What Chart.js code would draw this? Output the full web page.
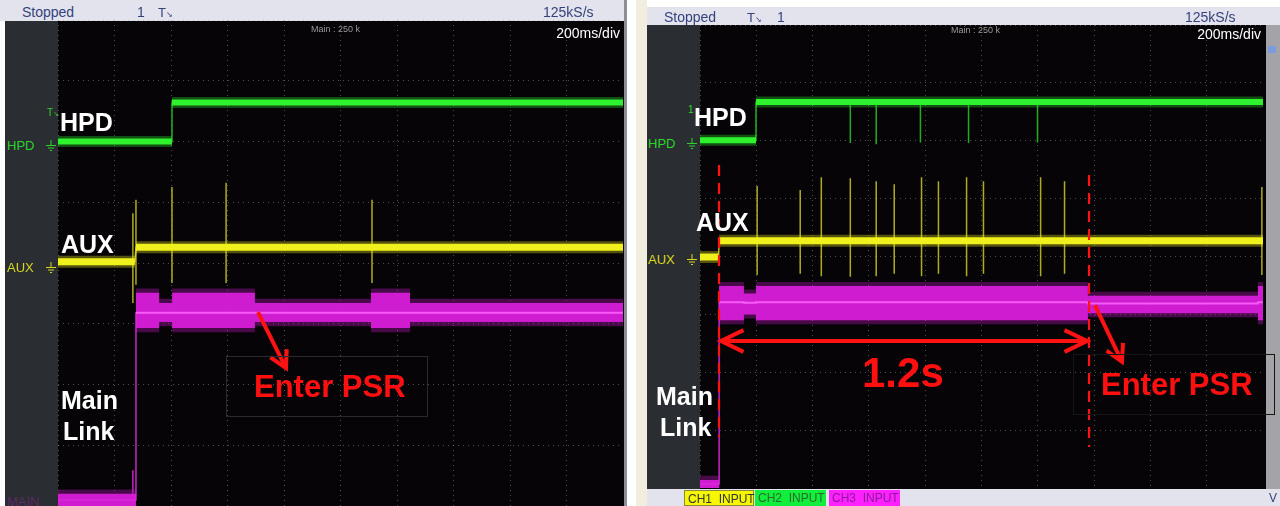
<!DOCTYPE html>
<html><head><meta charset="utf-8">
<script src="https://cdn.jsdelivr.net/npm/chart.js@4/dist/chart.umd.min.js"></script>
<style>
body{margin:0;width:1280px;height:506px;background:#fff;position:relative;overflow:hidden;font-family:"Liberation Sans",Arial,sans-serif;}
.a{position:absolute;white-space:nowrap;line-height:1;}
.bar{background:#e3e3ed;}
.sm{font-family:"Liberation Sans Narrow","Liberation Sans",sans-serif;color:#34427c;font-size:14px;}
.big{color:#fff;font-weight:bold;font-size:25px;}
.red{color:#ff0f0f;font-weight:bold;}
.div{font-family:"Liberation Sans Narrow","Liberation Sans",sans-serif;color:#fff;font-size:14px;}
.main{font-size:9px;color:#9a9a9a;}
.ch{font-family:"Liberation Sans Narrow","Liberation Sans",sans-serif;font-size:13px;}
.chip{font-family:"Liberation Sans Narrow","Liberation Sans",sans-serif;font-size:12px;height:16px;line-height:16px;box-sizing:border-box;padding-left:3px;}
canvas{position:absolute;}
</style></head><body>
<!-- LEFT SCOPE CHROME -->
<div class="a bar" style="left:0;top:0;width:624px;height:21px;"></div>
<div class="a" style="left:5px;top:21px;width:619px;height:485px;background:#070408;"></div>
<div class="a" style="left:5px;top:21px;width:53px;height:485px;background:#2a2d31;"></div>
<div class="a" style="left:624px;top:0;width:3px;height:506px;background:#8d8d95;"></div>
<div class="a" style="left:636px;top:0;width:11px;height:506px;background:#f1eedf;"></div>
<!-- RIGHT SCOPE CHROME -->
<div class="a bar" style="left:647px;top:7px;width:633px;height:18px;"></div>
<div class="a" style="left:647px;top:25px;width:619px;height:464px;background:#070408;"></div>
<div class="a" style="left:647px;top:25px;width:53px;height:464px;background:#2a2d31;"></div>
<div class="a" style="left:1266px;top:25px;width:14px;height:464px;background:#a3a3a8;"></div>
<div class="a" style="left:1268px;top:46px;width:8px;height:7px;background:#7f9be0;"></div>
<div class="a bar" style="left:647px;top:489px;width:633px;height:17px;"></div>

<canvas id="cL" width="565" height="486" style="left:58px;top:20px;"></canvas>
<canvas id="cR" width="563" height="463" style="left:700px;top:25px;"></canvas>

<!-- left texts -->
<div class="a sm" style="left:22px;top:5px;">Stopped</div>
<div class="a sm" style="left:137px;top:5px;">1</div>
<div class="a sm" style="left:158px;top:6px;font-size:13px;">T<span style="font-size:8px;">↘</span></div>
<div class="a sm" style="left:543px;top:5px;">125kS/s</div>
<div class="a main" style="left:311px;top:25px;">Main : 250 k</div>
<div class="a div" style="right:660px;top:26px;">200ms/div</div>
<div class="a ch" style="left:7px;top:139px;color:#2bd42b;">HPD</div>
<div class="a ch" style="left:47px;top:108px;color:#2bd42b;font-size:10px;">T<span style="font-size:7px">↘</span></div>
<div class="a ch" style="left:7px;top:261px;color:#d8d820;">AUX</div>
<div class="a ch" style="left:7px;top:495px;color:#5c2a66;">MAIN</div>
<svg class="a" style="left:45px;top:140px;" width="12" height="12"><g stroke="#2bd42b" stroke-width="1"><line x1="6" y1="0" x2="6" y2="5"/><line x1="1" y1="5.5" x2="11" y2="5.5"/><line x1="3" y1="8" x2="9" y2="8"/><line x1="5" y1="10.5" x2="7" y2="10.5"/></g></svg>
<svg class="a" style="left:45px;top:262px;" width="12" height="12"><g stroke="#d8d820" stroke-width="1"><line x1="6" y1="0" x2="6" y2="5"/><line x1="1" y1="5.5" x2="11" y2="5.5"/><line x1="3" y1="8" x2="9" y2="8"/><line x1="5" y1="10.5" x2="7" y2="10.5"/></g></svg>
<div class="a big" style="left:60px;top:110px;">HPD</div>
<div class="a big" style="left:61px;top:232px;">AUX</div>
<div class="a big" style="left:61px;top:388px;">Main</div>
<div class="a big" style="left:63px;top:419px;">Link</div>
<div class="a" style="left:226px;top:356px;width:202px;height:61px;border:1px solid #2a2a2a;box-sizing:border-box;"></div>
<div class="a red" style="left:254px;top:371px;font-size:31px;">Enter PSR</div>

<!-- right texts -->
<div class="a sm" style="left:664px;top:10px;">Stopped</div>
<div class="a sm" style="left:747px;top:11px;font-size:13px;">T<span style="font-size:8px;">↘</span></div>
<div class="a sm" style="left:777px;top:10px;">1</div>
<div class="a sm" style="left:1185px;top:10px;">125kS/s</div>
<div class="a main" style="left:951px;top:26px;">Main : 250 k</div>
<div class="a div" style="right:19px;top:27px;">200ms/div</div>
<div class="a ch" style="left:648px;top:137px;color:#2bd42b;">HPD</div>
<div class="a ch" style="left:688px;top:105px;color:#2bd42b;font-size:10px;">1</div>
<div class="a ch" style="left:648px;top:253px;color:#d8d820;">AUX</div>
<svg class="a" style="left:686px;top:138px;" width="12" height="12"><g stroke="#2bd42b" stroke-width="1"><line x1="6" y1="0" x2="6" y2="5"/><line x1="1" y1="5.5" x2="11" y2="5.5"/><line x1="3" y1="8" x2="9" y2="8"/><line x1="5" y1="10.5" x2="7" y2="10.5"/></g></svg>
<svg class="a" style="left:686px;top:254px;" width="12" height="12"><g stroke="#d8d820" stroke-width="1"><line x1="6" y1="0" x2="6" y2="5"/><line x1="1" y1="5.5" x2="11" y2="5.5"/><line x1="3" y1="8" x2="9" y2="8"/><line x1="5" y1="10.5" x2="7" y2="10.5"/></g></svg>
<div class="a big" style="left:694px;top:105px;">HPD</div>
<div class="a big" style="left:696px;top:210px;">AUX</div>
<div class="a big" style="left:656px;top:384px;">Main</div>
<div class="a big" style="left:660px;top:415px;">Link</div>
<div class="a red" style="left:862px;top:352px;font-size:42px;">1.2s</div>
<div class="a" style="left:1073px;top:354px;width:202px;height:61px;border:1px solid #151515;box-sizing:border-box;"></div>
<div class="a red" style="left:1101px;top:369px;font-size:31px;">Enter PSR</div>
<div class="a chip" style="left:684px;top:490px;width:70px;background:#f6f600;border:1px solid #8a8a3a;color:#333;">CH1&nbsp;&nbsp;INPUT</div>
<div class="a chip" style="left:755px;top:490px;width:71px;background:#12ee3c;color:#2a6a2a;">CH2&nbsp;&nbsp;INPUT</div>
<div class="a chip" style="left:829px;top:490px;width:71px;background:#ff22ff;color:#8a1a9a;">CH3&nbsp;&nbsp;INPUT</div>
<div class="a ch" style="left:1269px;top:492px;color:#34427c;font-size:12px;">V</div>

<script>
// ===== DATA (time in ms at 200 ms/div, level in divisions from bottom) =====
// Left capture
const L_hpdX = [0, 403.5, 403.5, 2000];
const L_hpdY = [6.0, 6.0, 6.64, 6.64];
const L_auxX = [0, 272, 276, 2000];
const L_auxY = [4.02, 4.02, 4.26, 4.26];
const L_auxSpikeX = [265, 276, 403.5, 595, 1111.5];
const L_auxSpikeTop = [4.82, 5.04, 5.25, 5.32, 5.04];
const L_auxSpikeBot = [3.34, 3.64, 3.67, 3.67, 3.67];
const L_hpdSpikeX = [];
const L_hpdSpikeBot = [];
const L_mainBreaks = [0, 276, 358, 404, 697, 1108, 1246, 2000];
const L_mainUpper = [0.2, 3.51, 3.34, 3.51, 3.34, 3.51, 3.34];
const L_mainLower = [0.0, 2.93, 3.03, 2.93, 3.03, 2.93, 3.03];
const L_mainCenter = [0.1, 3.18, 3.18, 3.18, 3.18, 3.18, 3.18];
const L_mainSpikeX = [265];
const L_mainSpikeTop = [0.59];
const L_arrowX = [708, 807];
const L_arrowY = [3.19, 2.27];

// Right capture
const R_hpdX = [0, 199, 199, 2000];
const R_hpdY = [6.01, 6.01, 6.67, 6.67];
const R_hpdSpikeX = [534, 626, 783, 954, 1199];
const R_hpdSpikeBot = [5.96, 5.94, 5.97, 5.96, 5.97];
const R_auxX = [0, 66, 68, 2000];
const R_auxY = [3.99, 3.99, 4.27, 4.27];
const R_auxSpikeX = [203, 356, 431, 534, 626, 690, 787, 847, 947, 1007, 1210, 1295, 1996];
const R_auxSpikeTop = [5.22, 5.15, 5.37, 5.35, 5.3, 5.25, 5.37, 5.3, 5.37, 5.3, 5.37, 5.3, 5.2];
const R_auxSpikeBot = [3.68, 3.7, 3.66, 3.65, 3.66, 3.7, 3.66, 3.7, 3.66, 3.7, 3.66, 3.7, 3.68];
const R_mainBreaks = [0, 68, 156, 199, 1378, 1982, 2000];
const R_mainUpper = [0.14, 3.49, 3.36, 3.49, 3.32, 3.49];
const R_mainLower = [0.0, 2.90, 3.0, 2.90, 3.02, 2.90];
const R_mainCenter = [0.07, 3.21, 3.2, 3.21, 3.19, 3.21];
const R_mainSpikeX = [];
const R_mainSpikeTop = [];
const R_markerX = [67.5, 1382];
const R_markerTop = [5.58, 5.41];
const R_markerBot = [0.88, 0.71];
const R_spanY = 2.54;
const R_arrowX = [1403, 1499];
const R_arrowY = [3.16, 2.18];

// ===== helpers =====
function stepPts(breaks, vals, d){ d=d||0; const p=[]; for(let i=0;i<vals.length;i++){p.push({x:breaks[i],y:vals[i]+d});p.push({x:breaks[i+1],y:vals[i]+d});} return p; }
function linePts(xs, ys){ return xs.map((x,i)=>({x:x,y:ys[i]})); }
// level segments only (gap at the transition, which is drawn thin separately)
function levelPts(xs, ys){ return [{x:xs[0],y:ys[0]},{x:xs[1],y:ys[1]},{x:xs[1],y:null},{x:xs[2],y:ys[2]},{x:xs[3],y:ys[3]}]; }
function spikePts(xs, tops, bots){ const p=[]; xs.forEach((x,i)=>{p.push({x:x,y:tops[i]});p.push({x:x,y:bots[i]});p.push({x:x,y:null});}); return p; }

const GREEN='#2ef22e', YEL='#f0f01c', MAG='rgba(218,30,218,0.93)';
function datasets(S){
  const hi = S.hpdY[S.hpdY.length-1];
  return [
    {data:levelPts(S.hpdX,S.hpdY), borderColor:GREEN, borderWidth:6},
    {data:levelPts(S.hpdX,S.hpdY), borderColor:'rgba(40,220,40,0.35)', borderWidth:11},
    {data:linePts(S.hpdX,S.hpdY), borderColor:'rgba(40,220,40,0.8)', borderWidth:1.5},
    {data:spikePts(S.hpdSpikeX, S.hpdSpikeX.map(()=>hi), S.hpdSpikeBot), borderColor:'rgba(40,200,40,0.85)', borderWidth:1.5},
    {data:levelPts(S.auxX,S.auxY), borderColor:YEL, borderWidth:7},
    {data:levelPts(S.auxX,S.auxY), borderColor:'rgba(230,230,30,0.35)', borderWidth:12},
    {data:linePts(S.auxX,S.auxY), borderColor:'rgba(230,230,30,0.8)', borderWidth:1.5},
    {data:spikePts(S.auxSpikeX,S.auxSpikeTop,S.auxSpikeBot), borderColor:'rgba(215,215,40,0.8)', borderWidth:1.5},
    {data:stepPts(S.mainBreaks,S.mainCenter).slice(2), borderColor:'rgba(255,110,255,0.75)', borderWidth:2},
    {data:stepPts(S.mainBreaks,S.mainCenter), borderColor:'rgba(220,40,220,0.9)', borderWidth:1.5},
    {data:stepPts(S.mainBreaks,S.mainUpper), borderColor:'rgba(0,0,0,0)', borderWidth:0},
    {data:stepPts(S.mainBreaks,S.mainLower), borderColor:'rgba(0,0,0,0)', borderWidth:0, fill:'-1', backgroundColor:MAG},
    {data:stepPts(S.mainBreaks,S.mainUpper,0.07), borderColor:'rgba(0,0,0,0)', borderWidth:0},
    {data:stepPts(S.mainBreaks,S.mainLower,-0.07), borderColor:'rgba(0,0,0,0)', borderWidth:0, fill:'-1', backgroundColor:'rgba(170,20,170,0.4)'},
    {data:spikePts(S.mainSpikeX,S.mainSpikeTop,S.mainSpikeX.map(()=>0)), borderColor:'rgba(220,40,220,0.9)', borderWidth:1.5}
  ];
}

function chevron(ctx, tx, ty, fx, fy, len, ang){
  const a=Math.atan2(ty-fy, tx-fx);
  ctx.beginPath();
  ctx.moveTo(tx-len*Math.cos(a-ang), ty-len*Math.sin(a-ang));
  ctx.lineTo(tx,ty);
  ctx.lineTo(tx-len*Math.cos(a+ang), ty-len*Math.sin(a+ang));
  ctx.stroke();
}
function marks(S){
  return {id:'marks', afterDatasetsDraw(chart){
    const ctx=chart.ctx, x=chart.scales.x, y=chart.scales.y;
    ctx.save(); ctx.strokeStyle='#ff1212'; ctx.lineJoin='miter';
    if(S.markerX){
      ctx.lineWidth=2.2; ctx.setLineDash([11,7]);
      S.markerX.forEach((mx,i)=>{ ctx.beginPath(); ctx.moveTo(x.getPixelForValue(mx), y.getPixelForValue(S.markerTop[i])); ctx.lineTo(x.getPixelForValue(mx), y.getPixelForValue(S.markerBot[i])); ctx.stroke(); });
      ctx.setLineDash([]);
      const x1=x.getPixelForValue(S.markerX[0])+2, x2=x.getPixelForValue(S.markerX[1])-2, yy=y.getPixelForValue(S.spanY);
      ctx.lineWidth=4; ctx.beginPath(); ctx.moveTo(x1,yy); ctx.lineTo(x2,yy); ctx.stroke();
      chevron(ctx,x1,yy,x2,yy,25,0.45); chevron(ctx,x2,yy,x1,yy,25,0.45);
    }
    const ax=S.arrowX.map(v=>x.getPixelForValue(v)), ay=S.arrowY.map(v=>y.getPixelForValue(v));
    ctx.lineWidth=4; ctx.beginPath(); ctx.moveTo(ax[0],ay[0]); ctx.lineTo(ax[1],ay[1]); ctx.stroke();
    chevron(ctx,ax[1],ay[1],ax[0],ay[0],19,0.5);
    ctx.restore();
  }};
}

function makeChart(id, S){
  const gridOpts = {color:'rgba(150,150,150,0.5)', drawTicks:false, lineWidth:1};
  return new Chart(document.getElementById(id), {
    type:'line',
    data:{datasets:datasets(S)},
    options:{
      responsive:false, animation:false, devicePixelRatio:1,
      layout:{padding:0, autoPadding:false},
      spanGaps:false,
      elements:{point:{radius:0}, line:{tension:0, borderCapStyle:'butt'}},
      plugins:{legend:{display:false}, tooltip:{enabled:false}},
      scales:{
        x:{type:'linear', min:0, max:2000, ticks:{display:false, stepSize:200}, grid:gridOpts, border:{display:false, dash:[1,4]}},
        y:{type:'linear', min:0, max:8, ticks:{display:false, stepSize:1}, grid:gridOpts, border:{display:false, dash:[1,4]}}
      }
    },
    plugins:[marks(S)]
  });
}

makeChart('cL', {hpdX:L_hpdX, hpdY:L_hpdY, hpdSpikeX:L_hpdSpikeX, hpdSpikeBot:L_hpdSpikeBot,
  auxX:L_auxX, auxY:L_auxY, auxSpikeX:L_auxSpikeX, auxSpikeTop:L_auxSpikeTop, auxSpikeBot:L_auxSpikeBot,
  mainBreaks:L_mainBreaks, mainUpper:L_mainUpper, mainLower:L_mainLower, mainCenter:L_mainCenter,
  mainSpikeX:L_mainSpikeX, mainSpikeTop:L_mainSpikeTop, arrowX:L_arrowX, arrowY:L_arrowY});
makeChart('cR', {hpdX:R_hpdX, hpdY:R_hpdY, hpdSpikeX:R_hpdSpikeX, hpdSpikeBot:R_hpdSpikeBot,
  auxX:R_auxX, auxY:R_auxY, auxSpikeX:R_auxSpikeX, auxSpikeTop:R_auxSpikeTop, auxSpikeBot:R_auxSpikeBot,
  mainBreaks:R_mainBreaks, mainUpper:R_mainUpper, mainLower:R_mainLower, mainCenter:R_mainCenter,
  mainSpikeX:R_mainSpikeX, mainSpikeTop:R_mainSpikeTop, markerX:R_markerX, markerTop:R_markerTop, markerBot:R_markerBot,
  spanY:R_spanY, arrowX:R_arrowX, arrowY:R_arrowY});
</script>
</body></html>
